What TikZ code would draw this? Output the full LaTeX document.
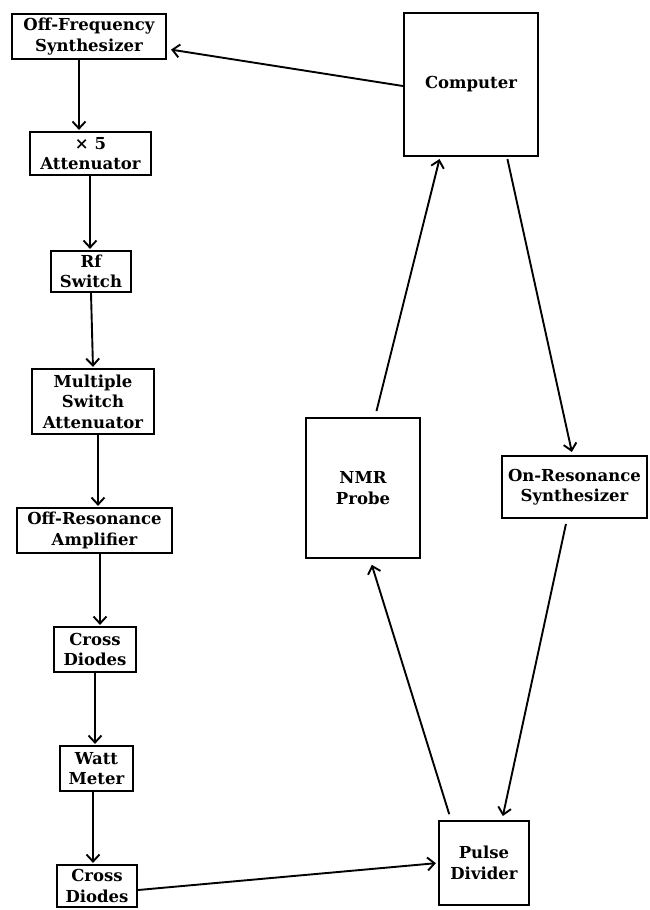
\documentclass[tikz,border=0pt]{standalone}
\usepackage{fontspec}
\setmainfont{DejaVu Serif}
\usetikzlibrary{arrows.meta}

\begin{document}
\begin{tikzpicture}[
    x=1pt, y=1pt,
    blk/.style={rectangle, draw, line width=2.2pt, inner sep=0pt,
                align=center, font=\fontsize{16.5}{20.5}\selectfont\bfseries},
    arr/.style={-{Straight Barb[length=7pt, width=13pt, line width=1.9pt]},
                line width=1.9pt, shorten >=1pt},
]
  \useasboundingbox (0,0) rectangle (649,-910);

  % left chain
  \node[blk, minimum width=154, minimum height=45] (ofs) at (89,-36.5)
    {Off-Frequency\\Synthesizer};
  \node[blk, minimum width=121, minimum height=43] (att) at (90.5,-153.5)
    {× 5\\Attenuator};
  \node[blk, minimum width=80, minimum height=41] (rfs) at (91,-271.5)
    {Rf\\Switch};
  \node[blk, minimum width=122, minimum height=65] (msa) at (93,-401.5)
    {Multiple\\Switch\\Attenuator};
  \node[blk, minimum width=155, minimum height=45] (ora) at (94.5,-530.5)
    {Off-Resonance\\Amplifier};
  \node[blk, minimum width=82, minimum height=45] (cda) at (95,-649.5)
    {Cross\\Diodes};
  \node[blk, minimum width=73, minimum height=45] (wmt) at (96.5,-768.5)
    {Watt\\Meter};
  \node[blk, minimum width=80, minimum height=42] (cdb) at (97,-886)
    {Cross\\Diodes};

  % right loop
  \node[blk, minimum width=134, minimum height=143] (cmp) at (471,-84.5)
    {Computer};
  \node[blk, minimum width=114, minimum height=140] (nmr) at (363,-488)
    {NMR\\Probe};
  \node[blk, minimum width=145, minimum height=62] (onr) at (574.5,-487)
    {On-Resonance\\Synthesizer};
  \node[blk, minimum width=90, minimum height=84] (pdv) at (484,-863)
    {Pulse\\Divider};

  \draw[arr] ([xshift=-10]ofs.south) -- ([xshift=-10]ofs.south |- att.north);
  \draw[arr] ([xshift=-0.5]att.south) -- ([xshift=-0.5]att.south |- rfs.north);
  \draw[arr] (rfs.south) -- (msa.north);
  \draw[arr] ([xshift=5]msa.south) -- ([xshift=5]msa.south |- ora.north);
  \draw[arr] ([xshift=5.5]ora.south) -- ([xshift=5.5]ora.south |- cda.north);
  \draw[arr] (cda.south) -- (cda.south |- wmt.north);
  \draw[arr] ([xshift=-3.5]wmt.south) -- ([xshift=-3.5]wmt.south |- cdb.north);

  \draw[arr, shorten >=4pt] ([yshift=-1.5]cmp.west) -- ([yshift=-12.5]ofs.east);
  \draw[arr, shorten <=6pt, shorten >=2pt] ([xshift=12]nmr.north) -- ([xshift=-31]cmp.south);
  \draw[arr, shorten <=2pt, shorten >=3pt] ([xshift=36]cmp.south) -- ([xshift=-2]onr.north);
  \draw[arr, shorten <=5pt, shorten >=4pt] ([xshift=-7.5]onr.south) -- ([xshift=18]pdv.north);
  \draw[arr, shorten <=6pt, shorten >=6pt] ([xshift=-33]pdv.north) -- ([xshift=7]nmr.south);
  \draw[arr, shorten >=2pt] ([yshift=-4]cdb.east) -- (pdv.west);

\end{tikzpicture}
\end{document}
